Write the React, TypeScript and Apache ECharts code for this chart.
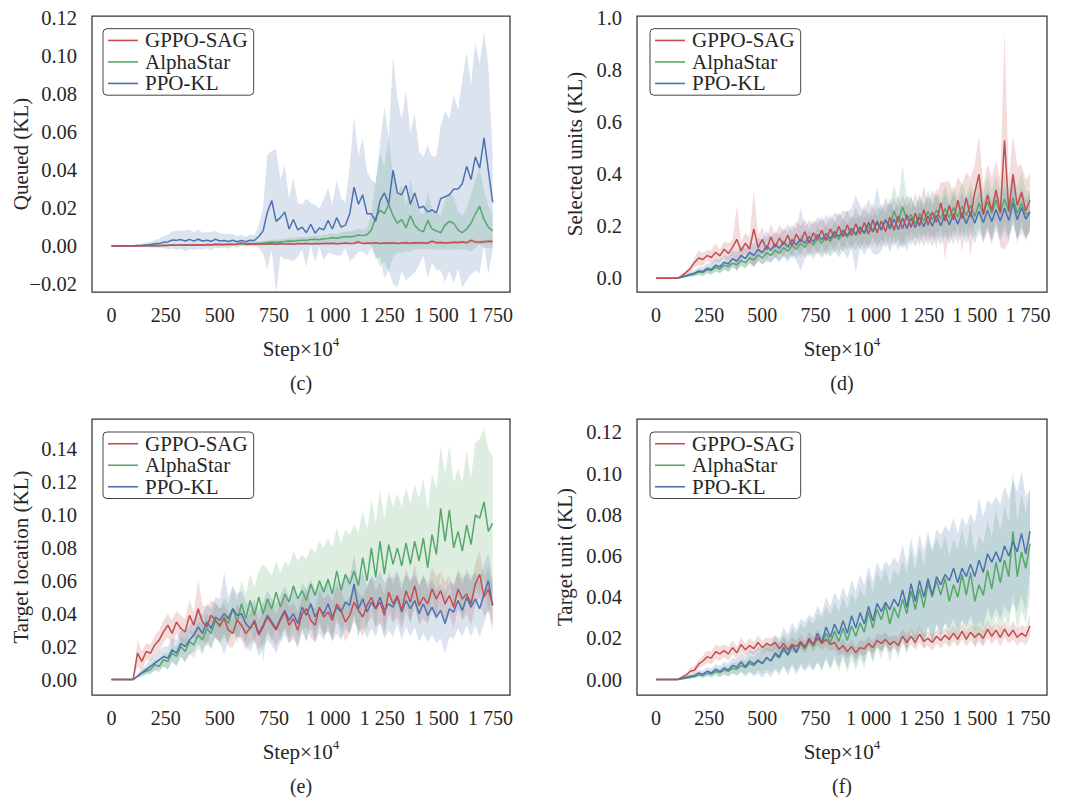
import React, { useEffect, useRef } from 'react';
import * as echarts from 'echarts';

const NAMES = ['GPPO-SAG', 'AlphaStar', 'PPO-KL'];
const COLORS = ['#c44e52', '#55a868', '#4c72b0'];
const BAND_COLORS = ['rgba(196,78,82,0.2)', 'rgba(85,168,104,0.2)', 'rgba(76,114,176,0.2)'];
const FONT = 'Liberation Serif';

const steps = [
  0, 20, 40, 60, 80, 100, 120, 140, 160, 180,
  200, 220, 240, 260, 280, 300, 320, 340, 360, 380,
  400, 420, 440, 460, 480, 500, 520, 540, 560, 580,
  600, 620, 640, 660, 680, 700, 720, 740, 760, 780,
  800, 820, 840, 860, 880, 900, 920, 940, 960, 980,
  1000, 1020, 1040, 1060, 1080, 1100, 1120, 1140, 1160, 1180,
  1200, 1220, 1240, 1260, 1280, 1300, 1320, 1340, 1360, 1380,
  1400, 1420, 1440, 1460, 1480, 1500, 1520, 1540, 1560, 1580,
  1600, 1620, 1640, 1660, 1680, 1700, 1720, 1740, 1760,
];

const xTicks = [0, 250, 500, 750, 1000, 1250, 1500, 1750];
const cYTicks = [-0.02, 0, 0.02, 0.04, 0.06, 0.08, 0.1, 0.12];
const dYTicks = [0, 0.2, 0.4, 0.6, 0.8, 1.0];
const eYTicks = [0, 0.02, 0.04, 0.06, 0.08, 0.1, 0.12, 0.14];
const fYTicks = [0, 0.02, 0.04, 0.06, 0.08, 0.1, 0.12];

// ---------- (c) Queued ----------
const cRedMean = [
  0, 0, 0, 0, 0, 0, 0, 0, 0.0001, 0.0002,
  0.0003, 0.0002, 0.0004, 0.0003, 0.0005, 0.0004, 0.0005, 0.0006, 0.0005, 0.0006,
  0.0007, 0.0006, 0.0008, 0.0007, 0.0009, 0.0008, 0.0007, 0.0009, 0.0008, 0.0010,
  0.0018, 0.0009, 0.0011, 0.0010, 0.0012, 0.0009, 0.0011, 0.0012, 0.0010, 0.0013,
  0.0011, 0.0012, 0.0010, 0.0013, 0.0012, 0.0014, 0.0011, 0.0013, 0.0012, 0.0014,
  0.0013, 0.0015, 0.0012, 0.0014, 0.0016, 0.0013, 0.0015, 0.0021, 0.0014, 0.0016,
  0.0015, 0.0017, 0.0014, 0.0016, 0.0015, 0.0017, 0.0014, 0.0016, 0.0018, 0.0015,
  0.0017, 0.0016, 0.0018, 0.0015, 0.0026, 0.0017, 0.0019, 0.0016, 0.0018, 0.0020,
  0.0019, 0.0021, 0.0018, 0.0030, 0.0022, 0.0020, 0.0023, 0.0025, 0.0024,
];
const cRedSd = [
  0, 0, 0, 0, 0, 0, 0, 0, 0.0001, 0.0001,
  0.0002, 0.0002, 0.0002, 0.0002, 0.0003, 0.0003, 0.0003, 0.0003, 0.0003, 0.0004,
  0.0004, 0.0004, 0.0004, 0.0004, 0.0005, 0.0004, 0.0004, 0.0005, 0.0004, 0.0005,
  0.0008, 0.0005, 0.0005, 0.0005, 0.0006, 0.0005, 0.0005, 0.0006, 0.0005, 0.0006,
  0.0005, 0.0006, 0.0005, 0.0006, 0.0006, 0.0006, 0.0005, 0.0006, 0.0006, 0.0006,
  0.0006, 0.0007, 0.0006, 0.0006, 0.0007, 0.0006, 0.0007, 0.0009, 0.0006, 0.0007,
  0.0007, 0.0007, 0.0006, 0.0007, 0.0007, 0.0007, 0.0006, 0.0007, 0.0008, 0.0007,
  0.0007, 0.0007, 0.0008, 0.0007, 0.0011, 0.0007, 0.0008, 0.0007, 0.0008, 0.0008,
  0.0008, 0.0009, 0.0008, 0.0012, 0.0009, 0.0009, 0.0010, 0.0010, 0.0010,
];
const cGreenMean = [
  0, 0, 0, 0, 0, 0.0001, 0.0001, 0.0001, 0.0002, 0.0002,
  0.0003, 0.0003, 0.0003, 0.0004, 0.0004, 0.0004, 0.0005, 0.0005, 0.0005, 0.0006,
  0.0006, 0.0006, 0.0007, 0.0007, 0.0008, 0.0008, 0.0009, 0.0009, 0.0010, 0.0010,
  0.0011, 0.0012, 0.0012, 0.0013, 0.0014, 0.0016, 0.0019, 0.0021, 0.0020, 0.0022,
  0.0024, 0.0027, 0.0026, 0.0029, 0.0031, 0.0030, 0.0034, 0.0036, 0.0033, 0.0038,
  0.0040, 0.0044, 0.0041, 0.0046, 0.0050, 0.0048, 0.0052, 0.0058, 0.0055, 0.0060,
  0.0085, 0.0150, 0.0190, 0.0170, 0.0220, 0.0160, 0.0120, 0.0140, 0.0095, 0.0160,
  0.0110, 0.0085, 0.0075, 0.0135, 0.0090, 0.0080, 0.0070, 0.0110, 0.0130, 0.0120,
  0.0085, 0.0070, 0.0090, 0.0120, 0.0170, 0.0210, 0.0140, 0.0100, 0.0080,
];
const cGreenSd = [
  0, 0, 0, 0, 0, 0.0001, 0.0001, 0.0001, 0.0001, 0.0002,
  0.0002, 0.0002, 0.0002, 0.0003, 0.0003, 0.0003, 0.0003, 0.0004, 0.0004, 0.0004,
  0.0004, 0.0005, 0.0005, 0.0005, 0.0006, 0.0006, 0.0006, 0.0007, 0.0007, 0.0007,
  0.0008, 0.0008, 0.0009, 0.0009, 0.0010, 0.0011, 0.0012, 0.0013, 0.0013, 0.0014,
  0.0015, 0.0016, 0.0016, 0.0017, 0.0018, 0.0018, 0.0019, 0.0020, 0.0020, 0.0021,
  0.0022, 0.0024, 0.0023, 0.0026, 0.0028, 0.0027, 0.0030, 0.0035, 0.0032, 0.0040,
  0.0080, 0.0200, 0.0300, 0.0250, 0.0350, 0.0220, 0.0150, 0.0180, 0.0120, 0.0190,
  0.0130, 0.0100, 0.0090, 0.0150, 0.0110, 0.0100, 0.0090, 0.0130, 0.0150, 0.0140,
  0.0100, 0.0090, 0.0110, 0.0150, 0.0180, 0.0200, 0.0150, 0.0110, 0.0090,
];
const cBlueMean = [
  0, 0, 0, 0.0001, 0.0001, 0.0002, 0.0003, 0.0004, 0.0006, 0.0008,
  0.0012, 0.0013, 0.0020, 0.0022, 0.0032, 0.0030, 0.0034, 0.0027, 0.0035, 0.0026,
  0.0036, 0.0027, 0.0031, 0.0025, 0.0036, 0.0027, 0.0029, 0.0024, 0.0031, 0.0023,
  0.0030, 0.0023, 0.0031, 0.0029, 0.0050, 0.0080, 0.0180, 0.0240, 0.0130, 0.0150,
  0.0180, 0.0090, 0.0140, 0.0085, 0.0100, 0.0070, 0.0115, 0.0068, 0.0095, 0.0085,
  0.0135, 0.0090, 0.0150, 0.0100, 0.0110, 0.0170, 0.0310, 0.0220, 0.0270, 0.0170,
  0.0170, 0.0130, 0.0240, 0.0280, 0.0220, 0.0400, 0.0280, 0.0270, 0.0320, 0.0220,
  0.0280, 0.0200, 0.0210, 0.0180, 0.0190, 0.0175, 0.0250, 0.0260, 0.0270, 0.0300,
  0.0300, 0.0330, 0.0420, 0.0350, 0.0470, 0.0410, 0.0570, 0.0400, 0.0230,
];
const cBlueSd = [
  0, 0, 0.0001, 0.0002, 0.0003, 0.0004, 0.0006, 0.0008, 0.0012, 0.0015,
  0.0020, 0.0025, 0.0032, 0.0038, 0.0045, 0.0050, 0.0048, 0.0055, 0.0052, 0.0047,
  0.0050, 0.0046, 0.0042, 0.0048, 0.0044, 0.0040, 0.0036, 0.0038, 0.0032, 0.0030,
  0.0028, 0.0026, 0.0030, 0.0028, 0.0060, 0.0120, 0.0300, 0.0260, 0.0380, 0.0200,
  0.0250, 0.0160, 0.0220, 0.0140, 0.0120, 0.0180, 0.0110, 0.0150, 0.0100, 0.0160,
  0.0170, 0.0130, 0.0200, 0.0150, 0.0120, 0.0250, 0.0370, 0.0250, 0.0300, 0.0220,
  0.0180, 0.0200, 0.0300, 0.0450, 0.0350, 0.0600, 0.0500, 0.0400, 0.0500, 0.0380,
  0.0420, 0.0300, 0.0260, 0.0350, 0.0280, 0.0300, 0.0380, 0.0450, 0.0400, 0.0500,
  0.0420, 0.0550, 0.0600, 0.0500, 0.0600, 0.0550, 0.0560, 0.0550, 0.0250,
];

// ---------- (d) Selected units ----------
const dRedMean = [
  0, 0, 0, 0, 0, 0, 0.009, 0.022, 0.036, 0.060,
  0.078, 0.072, 0.088, 0.080, 0.100, 0.086, 0.112, 0.095, 0.120, 0.150,
  0.105, 0.135, 0.112, 0.190, 0.118, 0.150, 0.110, 0.160, 0.120, 0.155,
  0.130, 0.165, 0.125, 0.170, 0.140, 0.180, 0.135, 0.175, 0.150, 0.185,
  0.145, 0.190, 0.155, 0.200, 0.160, 0.205, 0.165, 0.210, 0.170, 0.215,
  0.170, 0.225, 0.175, 0.220, 0.180, 0.235, 0.185, 0.240, 0.190, 0.245,
  0.195, 0.250, 0.200, 0.265, 0.205, 0.255, 0.215, 0.290, 0.220, 0.280,
  0.225, 0.300, 0.230, 0.310, 0.235, 0.330, 0.400, 0.245, 0.320, 0.260,
  0.340, 0.250, 0.530, 0.260, 0.400, 0.280, 0.330, 0.260, 0.300,
];
const dRedSd = [
  0, 0, 0, 0, 0, 0, 0.004, 0.008, 0.012, 0.018,
  0.030, 0.025, 0.020, 0.028, 0.035, 0.025, 0.030, 0.040, 0.030, 0.130,
  0.035, 0.040, 0.045, 0.150, 0.050, 0.045, 0.040, 0.050, 0.045, 0.050,
  0.050, 0.045, 0.055, 0.050, 0.060, 0.050, 0.055, 0.050, 0.060, 0.055,
  0.060, 0.055, 0.060, 0.055, 0.065, 0.060, 0.055, 0.065, 0.060, 0.070,
  0.060, 0.065, 0.060, 0.070, 0.065, 0.075, 0.065, 0.080, 0.070, 0.075,
  0.070, 0.080, 0.075, 0.090, 0.080, 0.085, 0.100, 0.080, 0.150, 0.095,
  0.100, 0.090, 0.130, 0.100, 0.150, 0.110, 0.150, 0.110, 0.120, 0.130,
  0.110, 0.130, 0.420, 0.120, 0.150, 0.150, 0.110, 0.120, 0.100,
];
const dGreenMean = [
  0, 0, 0, 0, 0, 0, 0.004, 0.008, 0.013, 0.016,
  0.024, 0.022, 0.033, 0.030, 0.042, 0.036, 0.050, 0.044, 0.058, 0.052,
  0.068, 0.060, 0.078, 0.070, 0.090, 0.078, 0.098, 0.088, 0.108, 0.096,
  0.118, 0.104, 0.126, 0.112, 0.134, 0.120, 0.145, 0.128, 0.152, 0.136,
  0.160, 0.142, 0.170, 0.150, 0.178, 0.158, 0.186, 0.165, 0.192, 0.172,
  0.200, 0.178, 0.212, 0.190, 0.225, 0.200, 0.260, 0.215, 0.275, 0.225,
  0.245, 0.210, 0.250, 0.220, 0.258, 0.225, 0.262, 0.228, 0.268, 0.232,
  0.272, 0.236, 0.278, 0.240, 0.282, 0.238, 0.290, 0.245, 0.295, 0.250,
  0.300, 0.252, 0.305, 0.255, 0.310, 0.250, 0.290, 0.245, 0.255,
];
const dGreenSd = [
  0, 0, 0, 0, 0, 0, 0.002, 0.004, 0.006, 0.008,
  0.010, 0.012, 0.013, 0.014, 0.015, 0.016, 0.017, 0.018, 0.019, 0.020,
  0.021, 0.022, 0.023, 0.024, 0.025, 0.026, 0.027, 0.028, 0.029, 0.030,
  0.031, 0.032, 0.033, 0.034, 0.035, 0.036, 0.038, 0.040, 0.042, 0.044,
  0.045, 0.046, 0.048, 0.050, 0.052, 0.050, 0.055, 0.060, 0.052, 0.058,
  0.060, 0.055, 0.065, 0.070, 0.060, 0.080, 0.100, 0.080, 0.160, 0.090,
  0.070, 0.060, 0.075, 0.065, 0.080, 0.070, 0.085, 0.075, 0.090, 0.080,
  0.085, 0.075, 0.090, 0.080, 0.085, 0.080, 0.095, 0.085, 0.100, 0.090,
  0.095, 0.085, 0.100, 0.090, 0.100, 0.095, 0.120, 0.090, 0.080,
];
const dBlueMean = [
  0, 0, 0, 0, 0, 0, 0.005, 0.010, 0.016, 0.019,
  0.028, 0.026, 0.038, 0.034, 0.050, 0.044, 0.062, 0.054, 0.076, 0.066,
  0.088, 0.076, 0.100, 0.088, 0.112, 0.098, 0.125, 0.108, 0.132, 0.115,
  0.140, 0.120, 0.148, 0.128, 0.150, 0.135, 0.160, 0.140, 0.168, 0.148,
  0.172, 0.152, 0.180, 0.160, 0.185, 0.165, 0.192, 0.170, 0.198, 0.175,
  0.215, 0.180, 0.220, 0.185, 0.225, 0.190, 0.228, 0.188, 0.232, 0.192,
  0.232, 0.195, 0.236, 0.198, 0.240, 0.200, 0.242, 0.202, 0.245, 0.205,
  0.248, 0.208, 0.252, 0.210, 0.255, 0.212, 0.258, 0.215, 0.262, 0.218,
  0.265, 0.220, 0.270, 0.222, 0.290, 0.225, 0.272, 0.228, 0.255,
];
const dBlueSd = [
  0, 0, 0, 0, 0, 0, 0.003, 0.006, 0.009, 0.012,
  0.015, 0.018, 0.020, 0.022, 0.024, 0.026, 0.028, 0.030, 0.032, 0.034,
  0.036, 0.038, 0.040, 0.042, 0.044, 0.046, 0.060, 0.048, 0.050, 0.052,
  0.054, 0.056, 0.058, 0.060, 0.120, 0.062, 0.064, 0.066, 0.068, 0.070,
  0.072, 0.070, 0.074, 0.080, 0.076, 0.090, 0.078, 0.150, 0.080, 0.085,
  0.090, 0.085, 0.130, 0.080, 0.085, 0.090, 0.085, 0.080, 0.090, 0.085,
  0.080, 0.075, 0.080, 0.075, 0.080, 0.078, 0.082, 0.076, 0.080, 0.075,
  0.078, 0.074, 0.080, 0.076, 0.082, 0.078, 0.080, 0.075, 0.082, 0.078,
  0.080, 0.076, 0.085, 0.078, 0.080, 0.075, 0.078, 0.072, 0.070,
];

// ---------- (e) Target location ----------
const eRedMean = [
  0, 0, 0, 0, 0, 0, 0.016, 0.011, 0.017, 0.016,
  0.021, 0.024, 0.029, 0.033, 0.028, 0.035, 0.031, 0.029, 0.039, 0.033,
  0.043, 0.035, 0.032, 0.039, 0.036, 0.033, 0.037, 0.030, 0.028, 0.036,
  0.033, 0.028, 0.031, 0.035, 0.027, 0.032, 0.038, 0.034, 0.030, 0.036,
  0.041, 0.033, 0.037, 0.030, 0.040, 0.043, 0.036, 0.033, 0.044, 0.038,
  0.041, 0.036, 0.046, 0.042, 0.035, 0.039, 0.047, 0.042, 0.038, 0.045,
  0.050, 0.043, 0.047, 0.039, 0.053, 0.046, 0.051, 0.042, 0.054, 0.047,
  0.057, 0.045, 0.050, 0.046, 0.055, 0.049, 0.054, 0.046, 0.051, 0.044,
  0.055, 0.049, 0.052, 0.046, 0.058, 0.064, 0.050, 0.055, 0.045,
];
const eRedSd = [
  0, 0, 0, 0, 0, 0, 0.008, 0.006, 0.005, 0.005,
  0.006, 0.006, 0.007, 0.007, 0.008, 0.007, 0.008, 0.008, 0.009, 0.008,
  0.018, 0.010, 0.012, 0.009, 0.011, 0.010, 0.009, 0.010, 0.009, 0.010,
  0.009, 0.010, 0.009, 0.010, 0.009, 0.010, 0.010, 0.009, 0.010, 0.010,
  0.010, 0.011, 0.010, 0.011, 0.010, 0.011, 0.011, 0.010, 0.011, 0.011,
  0.011, 0.012, 0.011, 0.011, 0.012, 0.011, 0.012, 0.011, 0.012, 0.011,
  0.012, 0.011, 0.012, 0.012, 0.013, 0.012, 0.013, 0.012, 0.013, 0.012,
  0.013, 0.012, 0.013, 0.012, 0.013, 0.013, 0.012, 0.013, 0.012, 0.013,
  0.012, 0.013, 0.012, 0.013, 0.013, 0.014, 0.012, 0.013, 0.012,
];
const eGreenMean = [
  0, 0, 0, 0, 0, 0, 0.002, 0.004, 0.005, 0.006,
  0.009, 0.008, 0.012, 0.011, 0.016, 0.014, 0.020, 0.017, 0.023, 0.021,
  0.027, 0.024, 0.031, 0.028, 0.036, 0.032, 0.038, 0.034, 0.043, 0.035,
  0.046, 0.037, 0.048, 0.039, 0.050, 0.040, 0.049, 0.043, 0.053, 0.044,
  0.052, 0.047, 0.057, 0.049, 0.054, 0.048, 0.058, 0.051, 0.060, 0.053,
  0.061, 0.052, 0.066, 0.054, 0.064, 0.058, 0.066, 0.057, 0.074, 0.060,
  0.080, 0.062, 0.084, 0.064, 0.082, 0.070, 0.080, 0.069, 0.083, 0.070,
  0.084, 0.072, 0.086, 0.068, 0.088, 0.076, 0.104, 0.084, 0.103, 0.080,
  0.090, 0.078, 0.094, 0.082, 0.100, 0.098, 0.108, 0.090, 0.095,
];
const eGreenSd = [
  0, 0, 0, 0, 0, 0, 0.001, 0.002, 0.002, 0.003,
  0.003, 0.004, 0.004, 0.005, 0.005, 0.006, 0.006, 0.007, 0.007, 0.008,
  0.008, 0.009, 0.009, 0.010, 0.010, 0.011, 0.012, 0.012, 0.013, 0.013,
  0.014, 0.015, 0.016, 0.017, 0.016, 0.030, 0.018, 0.020, 0.019, 0.021,
  0.020, 0.022, 0.021, 0.023, 0.022, 0.025, 0.022, 0.026, 0.024, 0.027,
  0.025, 0.028, 0.026, 0.029, 0.027, 0.030, 0.028, 0.032, 0.029, 0.031,
  0.030, 0.033, 0.031, 0.034, 0.032, 0.035, 0.033, 0.036, 0.034, 0.037,
  0.035, 0.038, 0.036, 0.035, 0.037, 0.040, 0.038, 0.041, 0.039, 0.040,
  0.038, 0.042, 0.045, 0.040, 0.044, 0.048, 0.045, 0.050, 0.040,
];
const eBlueMean = [
  0, 0, 0, 0, 0, 0, 0.002, 0.004, 0.006, 0.008,
  0.010, 0.012, 0.014, 0.013, 0.018, 0.016, 0.022, 0.020, 0.024, 0.027,
  0.032, 0.028, 0.035, 0.031, 0.038, 0.036, 0.040, 0.037, 0.043, 0.039,
  0.040, 0.034, 0.031, 0.036, 0.028, 0.033, 0.039, 0.035, 0.031, 0.037,
  0.042, 0.036, 0.040, 0.034, 0.044, 0.039, 0.046, 0.038, 0.043, 0.040,
  0.046, 0.038, 0.044, 0.041, 0.047, 0.045, 0.058, 0.043, 0.049, 0.041,
  0.047, 0.043, 0.050, 0.042, 0.046, 0.044, 0.050, 0.041, 0.048, 0.043,
  0.048, 0.040, 0.046, 0.039, 0.044, 0.038, 0.042, 0.034, 0.043, 0.041,
  0.048, 0.042, 0.050, 0.044, 0.049, 0.043, 0.052, 0.060, 0.045,
];
const eBlueSd = [
  0, 0, 0, 0, 0, 0, 0.001, 0.002, 0.003, 0.004,
  0.005, 0.006, 0.006, 0.007, 0.007, 0.008, 0.008, 0.009, 0.009, 0.010,
  0.010, 0.011, 0.011, 0.012, 0.012, 0.013, 0.025, 0.013, 0.014, 0.013,
  0.014, 0.013, 0.014, 0.013, 0.014, 0.014, 0.015, 0.014, 0.015, 0.014,
  0.015, 0.014, 0.015, 0.014, 0.015, 0.016, 0.015, 0.016, 0.015, 0.016,
  0.016, 0.015, 0.016, 0.017, 0.016, 0.017, 0.018, 0.016, 0.017, 0.016,
  0.016, 0.017, 0.016, 0.017, 0.016, 0.018, 0.016, 0.017, 0.016, 0.017,
  0.016, 0.017, 0.018, 0.016, 0.017, 0.016, 0.017, 0.018, 0.017, 0.016,
  0.017, 0.016, 0.017, 0.018, 0.016, 0.017, 0.018, 0.017, 0.016,
];

// ---------- (f) Target unit ----------
const fRedMean = [
  0, 0, 0, 0, 0, 0, 0.001, 0.002, 0.004, 0.0045,
  0.0075, 0.009, 0.011, 0.0105, 0.0135, 0.0125, 0.014, 0.0125, 0.0155, 0.013,
  0.017, 0.0145, 0.0165, 0.015, 0.018, 0.0155, 0.0175, 0.0165, 0.018, 0.015,
  0.0175, 0.0145, 0.017, 0.016, 0.0185, 0.0155, 0.020, 0.017, 0.0205, 0.0175,
  0.0195, 0.017, 0.018, 0.0145, 0.0165, 0.0135, 0.016, 0.013, 0.0155, 0.015,
  0.0175, 0.0155, 0.019, 0.0175, 0.0195, 0.017, 0.0185, 0.0165, 0.021, 0.018,
  0.021, 0.018, 0.022, 0.0185, 0.020, 0.018, 0.021, 0.019, 0.0215, 0.0195,
  0.0225, 0.0195, 0.0235, 0.0195, 0.023, 0.0205, 0.0225, 0.020, 0.0245, 0.021,
  0.024, 0.0205, 0.0245, 0.021, 0.024, 0.0205, 0.0225, 0.021, 0.026,
];
const fRedSd = [
  0, 0, 0, 0, 0, 0, 0.001, 0.001, 0.0015, 0.002,
  0.002, 0.0025, 0.003, 0.003, 0.0035, 0.0035, 0.003, 0.0035, 0.0035, 0.003,
  0.0035, 0.003, 0.0035, 0.003, 0.0035, 0.0035, 0.003, 0.0035, 0.0035, 0.003,
  0.0035, 0.003, 0.0035, 0.003, 0.0035, 0.003, 0.0035, 0.0035, 0.004, 0.0035,
  0.0035, 0.003, 0.0035, 0.003, 0.0035, 0.003, 0.0035, 0.003, 0.0035, 0.0035,
  0.0035, 0.003, 0.0035, 0.004, 0.0035, 0.0035, 0.003, 0.004, 0.0035, 0.0035,
  0.004, 0.0035, 0.004, 0.0035, 0.0035, 0.004, 0.0035, 0.004, 0.0035, 0.004,
  0.004, 0.0035, 0.004, 0.0035, 0.004, 0.0045, 0.004, 0.004, 0.0045, 0.004,
  0.004, 0.0045, 0.004, 0.0035, 0.0045, 0.004, 0.004, 0.0045, 0.005,
];
const fGreenMean = [
  0, 0, 0, 0, 0, 0, 0.0003, 0.0006, 0.001, 0.0015,
  0.0022, 0.002, 0.003, 0.0027, 0.0039, 0.0034, 0.0046, 0.004, 0.0055, 0.005,
  0.0068, 0.0058, 0.0078, 0.0068, 0.009, 0.0078, 0.0105, 0.009, 0.012, 0.0105,
  0.0145, 0.0118, 0.016, 0.013, 0.0175, 0.0148, 0.019, 0.016, 0.020, 0.0175,
  0.0225, 0.018, 0.0235, 0.0185, 0.025, 0.019, 0.026, 0.021, 0.0275, 0.023,
  0.033, 0.025, 0.034, 0.029, 0.036, 0.027, 0.035, 0.030, 0.039, 0.032,
  0.043, 0.034, 0.044, 0.035, 0.047, 0.040, 0.048, 0.041, 0.049, 0.038,
  0.046, 0.040, 0.051, 0.041, 0.052, 0.038, 0.046, 0.041, 0.053, 0.044,
  0.057, 0.047, 0.058, 0.050, 0.072, 0.050, 0.062, 0.054, 0.066,
];
const fGreenSd = [
  0, 0, 0, 0, 0, 0, 0.0002, 0.0004, 0.0006, 0.0008,
  0.001, 0.0012, 0.0014, 0.0016, 0.0018, 0.002, 0.0022, 0.0024, 0.0026, 0.003,
  0.0032, 0.0035, 0.004, 0.0042, 0.0045, 0.005, 0.0055, 0.006, 0.0065, 0.007,
  0.0075, 0.008, 0.0085, 0.009, 0.0095, 0.010, 0.0105, 0.011, 0.012, 0.0125,
  0.013, 0.0135, 0.014, 0.0145, 0.015, 0.0155, 0.016, 0.0165, 0.017, 0.0175,
  0.018, 0.017, 0.0185, 0.019, 0.018, 0.019, 0.0185, 0.020, 0.019, 0.020,
  0.020, 0.019, 0.021, 0.020, 0.021, 0.022, 0.021, 0.022, 0.021, 0.022,
  0.022, 0.023, 0.022, 0.023, 0.024, 0.023, 0.024, 0.025, 0.024, 0.025,
  0.026, 0.025, 0.027, 0.026, 0.030, 0.027, 0.028, 0.027, 0.026,
];
const fBlueMean = [
  0, 0, 0, 0, 0, 0, 0.0005, 0.001, 0.0016, 0.0019,
  0.0032, 0.0026, 0.004, 0.0032, 0.005, 0.0038, 0.0056, 0.0046, 0.0068, 0.006,
  0.0085, 0.0062, 0.009, 0.0075, 0.0095, 0.0078, 0.0108, 0.009, 0.013, 0.011,
  0.0158, 0.012, 0.0172, 0.0132, 0.018, 0.016, 0.019, 0.017, 0.0225, 0.018,
  0.0255, 0.0205, 0.027, 0.022, 0.0285, 0.0225, 0.031, 0.025, 0.0325, 0.027,
  0.0355, 0.0285, 0.037, 0.033, 0.0375, 0.034, 0.039, 0.0355, 0.0435, 0.035,
  0.0465, 0.038, 0.048, 0.040, 0.049, 0.041, 0.050, 0.046, 0.051, 0.048,
  0.054, 0.047, 0.054, 0.050, 0.056, 0.050, 0.058, 0.052, 0.061, 0.057,
  0.062, 0.057, 0.065, 0.060, 0.067, 0.062, 0.071, 0.061, 0.072,
];
const fBlueSd = [
  0, 0, 0, 0, 0, 0, 0.0003, 0.0006, 0.0009, 0.0012,
  0.0015, 0.0018, 0.002, 0.0022, 0.0025, 0.0028, 0.003, 0.0033, 0.0036, 0.004,
  0.0045, 0.005, 0.0055, 0.006, 0.0065, 0.007, 0.0075, 0.008, 0.0085, 0.009,
  0.0095, 0.010, 0.0105, 0.011, 0.0115, 0.012, 0.0125, 0.013, 0.0135, 0.014,
  0.0145, 0.015, 0.0155, 0.016, 0.0165, 0.017, 0.0175, 0.018, 0.0185, 0.019,
  0.0195, 0.019, 0.020, 0.0195, 0.020, 0.021, 0.0205, 0.021, 0.022, 0.0215,
  0.022, 0.021, 0.0225, 0.022, 0.023, 0.0225, 0.023, 0.024, 0.0235, 0.024,
  0.0245, 0.024, 0.025, 0.0245, 0.025, 0.026, 0.030, 0.027, 0.026, 0.028,
  0.027, 0.028, 0.029, 0.028, 0.030, 0.029, 0.030, 0.028, 0.020,
];

type Panel = {
  grid: { left: number; top: number; width: number; height: number };
  yMin: number; yMax: number; yTicks: number[]; digits: number;
  yTitle: string; yTitleX: number;
  caption: string;
  legendLeft: number; legendTop: number;
  data: [number[], number[]][]; // red, green, blue : [mean, sd]
};

const panels: Panel[] = [
  {
    grid: { left: 92, top: 16, width: 418, height: 276 },
    yMin: -0.0242, yMax: 0.1212, yTicks: cYTicks, digits: 2,
    yTitle: 'Queued (KL)', yTitleX: 21, caption: '(c)',
    legendLeft: 103, legendTop: 28.7,
    data: [[cRedMean, cRedSd], [cGreenMean, cGreenSd], [cBlueMean, cBlueSd]],
  },
  {
    grid: { left: 637, top: 16, width: 410, height: 276 },
    yMin: -0.0527, yMax: 1.0088, yTicks: dYTicks, digits: 1,
    yTitle: 'Selected units (KL)', yTitleX: 575, caption: '(d)',
    legendLeft: 650, legendTop: 28.7,
    data: [[dRedMean, dRedSd], [dGreenMean, dGreenSd], [dBlueMean, dBlueSd]],
  },
  {
    grid: { left: 92, top: 419, width: 418, height: 276 },
    yMin: -0.0094, yMax: 0.1583, yTicks: eYTicks, digits: 2,
    yTitle: 'Target location (KL)', yTitleX: 21, caption: '(e)',
    legendLeft: 103, legendTop: 432,
    data: [[eRedMean, eRedSd], [eGreenMean, eGreenSd], [eBlueMean, eBlueSd]],
  },
  {
    grid: { left: 637, top: 419, width: 410, height: 276 },
    yMin: -0.0075, yMax: 0.1265, yTicks: fYTicks, digits: 2,
    yTitle: 'Target unit (KL)', yTitleX: 565, caption: '(f)',
    legendLeft: 650, legendTop: 432,
    data: [[fRedMean, fRedSd], [fGreenMean, fGreenSd], [fBlueMean, fBlueSd]],
  },
];

const TEXT = '#262626';

function fmtX(v: number) {
  if (v >= 1000) return `${Math.floor(v / 1000)} ${String(v % 1000).padStart(3, '0')}`;
  return String(v);
}

function buildOption() {
  const grid: any[] = [];
  const xAxis: any[] = [];
  const yAxis: any[] = [];
  const series: any[] = [];
  const legend: any[] = [];
  const graphic: any[] = [];

  panels.forEach((p, pi) => {
    grid.push({ ...p.grid, show: true, borderColor: '#333', borderWidth: 1.25, backgroundColor: 'transparent' });
    xAxis.push({
      type: 'value', gridIndex: pi, min: -90, max: 1840,
      axisLine: { show: false }, axisTick: { show: false }, splitLine: { show: false },
      axisLabel: {
        customValues: xTicks, formatter: fmtX, margin: 13,
        fontFamily: FONT, fontSize: 20, color: TEXT,
      },
    });
    yAxis.push({
      type: 'value', gridIndex: pi, min: p.yMin, max: p.yMax,
      axisLine: { show: false }, axisTick: { show: false }, splitLine: { show: false },
      axisLabel: {
        customValues: p.yTicks, margin: 15,
        formatter: (v: number) => {
          const s = Math.abs(v).toFixed(p.digits);
          return v < -1e-9 ? '\u2212' + s : s;
        },
        fontFamily: FONT, fontSize: 20.5, color: TEXT,
      },
    });

    // bands (mean ± sd) as polygons through the axes' coordinate system
    p.data.forEach(([mean, sd], k) => {
      series.push({
        type: 'custom', name: `${NAMES[k]} band ${pi}`, xAxisIndex: pi, yAxisIndex: pi,
        silent: true, z: 1, clip: true,
        data: steps.map((x, i) => [x, mean[i] - sd[i], mean[i] + sd[i]]),
        encode: { x: 0, y: [1, 2] },
        renderItem: (params: any, api: any) => {
          if (params.dataIndex !== 0) return null;
          const up: number[][] = [];
          const lo: number[][] = [];
          for (let i = 0; i < steps.length; i++) {
            up.push(api.coord([steps[i], mean[i] + sd[i]]));
            lo.push(api.coord([steps[i], mean[i] - sd[i]]));
          }
          return {
            type: 'polygon',
            shape: { points: up.concat(lo.reverse()) },
            style: { fill: BAND_COLORS[k], stroke: 'none' },
          };
        },
      });
    });
    // lines (green, blue, red on top)
    [1, 2, 0].forEach((k) => {
      const [mean] = p.data[k];
      series.push({
        type: 'line', name: NAMES[k], xAxisIndex: pi, yAxisIndex: pi,
        symbol: 'none', z: 3, color: COLORS[k],
        lineStyle: { width: 1.5, color: COLORS[k] },
        data: steps.map((x, i) => [x, mean[i]]),
      });
    });

    legend.push({
      data: NAMES, left: p.legendLeft, top: p.legendTop, orient: 'vertical',
      icon: 'rect', itemWidth: 30, itemHeight: 1.6, itemGap: 0,
      padding: [1, 6, 1, 5], selectedMode: false,
      backgroundColor: 'rgba(255,255,255,0.85)', borderColor: '#444', borderWidth: 1, borderRadius: 4,
      textStyle: { fontFamily: FONT, fontSize: 21, color: TEXT, lineHeight: 21.5, padding: [0, 0, 0, 2] },
    });

    const cx = p.grid.left + p.grid.width / 2;
    const cy = p.grid.top + p.grid.height / 2;
    const base = p.grid.top + p.grid.height;
    graphic.push({
      type: 'text', x: p.yTitleX, y: cy, rotation: Math.PI / 2,
      style: { text: p.yTitle, fontFamily: FONT, fontSize: 21, fill: TEXT, align: 'center', verticalAlign: 'middle' },
    });
    graphic.push({
      type: 'text', x: cx, y: base + 55,
      style: {
        text: '{a|Step×10}{b|4}', align: 'center', verticalAlign: 'middle',
        rich: {
          a: { fontFamily: FONT, fontSize: 21, fill: TEXT, lineHeight: 24, verticalAlign: 'bottom' },
          b: { fontFamily: FONT, fontSize: 13, fill: TEXT, lineHeight: 14, verticalAlign: 'top' },
        },
      },
    });
    graphic.push({
      type: 'text', x: cx, y: base + 91,
      style: { text: p.caption, fontFamily: FONT, fontSize: 20, fill: TEXT, align: 'center', verticalAlign: 'middle' },
    });
  });

  return { animation: false, backgroundColor: '#fff', grid, xAxis, yAxis, series, legend, graphic };
}

export default function App() {
  const ref = useRef<HTMLDivElement>(null);
  useEffect(() => {
    if (!ref.current) return;
    const chart = echarts.init(ref.current, null, { renderer: 'svg' });
    chart.setOption(buildOption() as any);
    return () => chart.dispose();
  }, []);
  return (
    <div
      ref={ref}
      style={{ position: 'absolute', left: 0, top: 0, width: 1070, height: 798, background: '#fff' }}
    />
  );
}
